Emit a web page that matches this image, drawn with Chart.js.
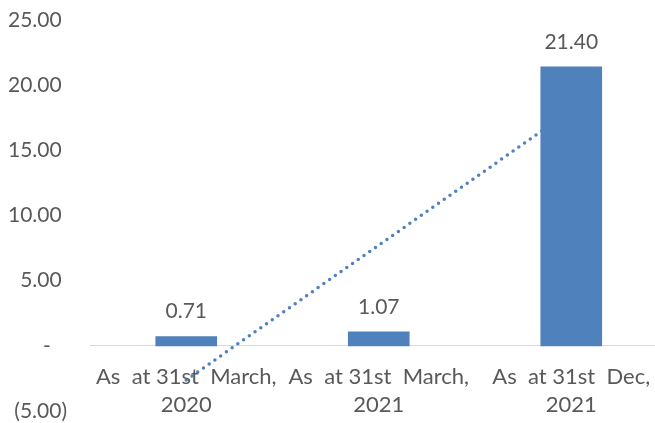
<!DOCTYPE html>
<html>
<head>
<meta charset="utf-8">
<script src="https://cdn.jsdelivr.net/npm/chart.js@4.4.0/dist/chart.umd.min.js"></script>
<style>
  html, body { margin: 0; padding: 0; background: #fff; overflow: hidden; }
  #wrap { width: 655px; height: 423px; position: relative; }
</style>
</head>
<body>
<div id="wrap"><canvas id="chart"></canvas></div>
<script>
const categories = [
  ['As  at 31st  March,', '2020'],
  ['As  at 31st  March,', '2021'],
  ['As  at 31st  Dec,', '2021']
];
const values = [0.71, 1.07, 21.40];
// linear trendline ends, read at the first and last category
const trendValues = [-2.62, 18.07];
const yTicks = [-5, 0, 5, 10, 15, 20, 25];

const blue = '#4f81bd';
const textColor = '#595959';
const fontFamily = 'Lato, "Open Sans", sans-serif';

const accounting = v => {
  if (v === 0) return '-   ';
  if (v < 0) return '(' + Math.abs(v).toFixed(2) + ')';
  return v.toFixed(2) + ' ';
};

const barLabels = {
  id: 'barLabels',
  afterDatasetsDraw(chart) {
    const { ctx } = chart;
    const meta = chart.getDatasetMeta(0);
    ctx.save();
    ctx.font = '21px ' + fontFamily;
    ctx.fillStyle = textColor;
    ctx.textAlign = 'center';
    ctx.textBaseline = 'middle';
    meta.data.forEach((bar, i) => {
      ctx.fillText(values[i].toFixed(2), bar.x, bar.y - 25);
    });
    ctx.restore();
  }
};

const ctx = document.getElementById('chart');
const chart = new Chart(ctx, {
  type: 'bar',
  data: {
    datasets: [{
      type: 'bar',
      data: values.map((v, i) => ({ x: i + 1, y: v })),
      backgroundColor: blue,
      barThickness: 61,
      order: 1
    }, {
      type: 'line',
      data: trendValues.map((v, i) => ({ x: 1 + i * (categories.length - 1), y: v })),
      borderColor: blue,
      borderWidth: 3.5,
      borderDash: [0, 7],
      borderCapStyle: 'round',
      pointRadius: 0,
      fill: false,
      order: 2
    }]
  },
  options: {
    responsive: true,
    maintainAspectRatio: false,
    animation: false,
    layout: { padding: { top: 20, bottom: 12, left: 0, right: 0 } },
    plugins: {
      legend: { display: false },
      tooltip: { enabled: false }
    },
    scales: {
      x: {
        type: 'linear',
        position: { y: 0 },
        offset: false,
        min: 0.5,
        max: 3.435,
        grid: { display: false, drawTicks: false },
        border: { display: true, color: '#d9d9d9', width: 1 },
        afterBuildTicks: scale => {
          scale.ticks = categories.map((c, i) => ({ value: i + 1 }));
        },
        afterFit: scale => {
          scale.paddingLeft = 0;
          scale.paddingRight = 0;
          scale.paddingTop = 0;
          scale.paddingBottom = 0;
        },
        ticks: {
          color: textColor,
          padding: 17,
          maxRotation: 0,
          autoSkip: false,
          font: { family: fontFamily, size: 22, lineHeight: '28px' },
          callback: v => categories[v - 1]
        }
      },
      y: {
        min: -5,
        max: 25,
        grid: { display: false, drawTicks: false },
        border: { display: false },
        afterBuildTicks: scale => {
          scale.ticks = yTicks.map(v => ({ value: v }));
        },
        afterFit: scale => {
          scale.width = 90;
          scale.paddingTop = 0;
          scale.paddingBottom = 0;
        },
        ticks: {
          color: textColor,
          padding: 23,
          font: { family: fontFamily, size: 21 },
          callback: v => accounting(v)
        }
      }
    }
  },
  plugins: [barLabels]
});
</script>
</body>
</html>
